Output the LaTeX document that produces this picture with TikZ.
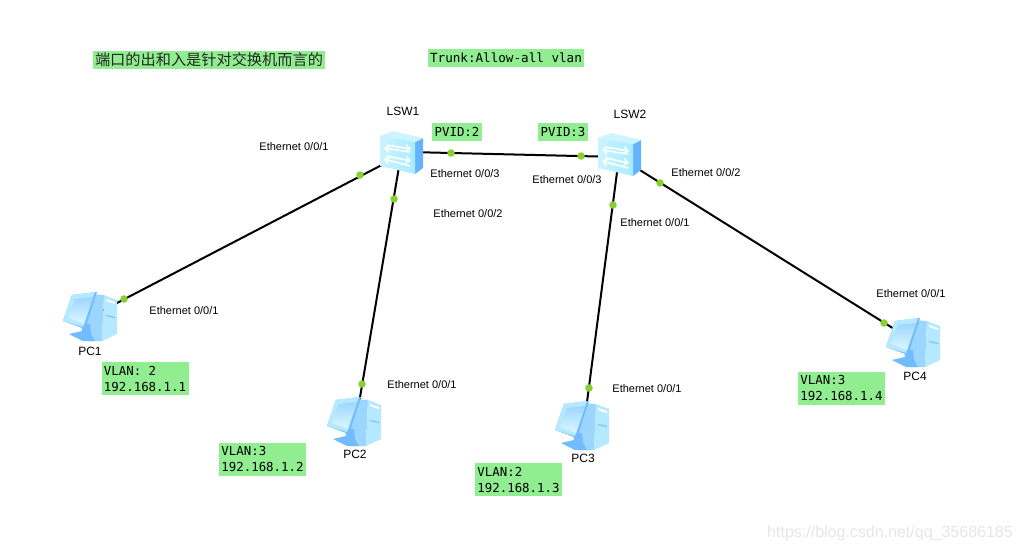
\documentclass[tikz,border=0pt]{standalone}
\usepackage{fontspec}
\setmainfont{Liberation Sans}
\setmonofont{DejaVu Sans Mono}
\newfontfamily\cjkfont{Noto Sans CJK SC}
\usepackage{xcolor}
\usetikzlibrary{arrows.meta,calc}
\definecolor{notegreen}{HTML}{90EE90}
\definecolor{portgreen}{HTML}{86D02F}
\definecolor{swfront}{HTML}{A8ECFF}
\definecolor{swtop}{HTML}{CCF5FF}
\definecolor{swside}{HTML}{66B2FF}
\definecolor{pcblue}{HTML}{70BCFF}
\definecolor{pcmid}{HTML}{9CD6FF}
\definecolor{pclight}{HTML}{B4E9FF}
\definecolor{pcscreen}{HTML}{DDF7FF}
\definecolor{markgray}{HTML}{E6E6E6}
\tikzset{
  link/.style={draw=black, line width=2pt},
  port/.style={circle, fill=portgreen, inner sep=0pt, minimum size=7.5pt},
  device/.style={inner sep=0pt, minimum size=1pt},
  devlabel/.style={font=\fontsize{12}{14}\selectfont},
  portlabel/.style={font=\fontsize{11}{13}\selectfont},
  note/.style={fill=notegreen, inner sep=0pt, font=\ttfamily\fontsize{12.4}{16}\selectfont},
  vlannote/.style={note, minimum width=87pt, minimum height=33pt, align=left},
  swarrow/.style={white, line width=1.6pt, -{Straight Barb[length=4pt,width=7pt]}},
  switchicon/.pic={
    \fill[swside] (14,-13) -- (22,-17) -- (22,13) -- (14,19) -- cycle;
    \fill[swtop] (-21,-19) -- (-8,-24) -- (22,-17) -- (14,-13) -- cycle;
    \shade[left color=swfront!60!white, right color=swfront] (-21,-19) -- (14,-13) -- (14,19) -- (-21,11) -- cycle;
    \draw[swarrow] (-14,-10) -- (10,-6);
    \draw[swarrow] (9,-3) -- (-17,-7);
    \draw[swarrow] (-14,1) -- (10,6);
    \draw[swarrow] (9,11) -- (-17,4);
  },
  pcicon/.pic={
    % tower
    \fill[pcmid] (-1,-22) -- (12,-21) -- (10,25) -- (-4,25) -- (-8,12) -- cycle;
    \fill[pclight] (12,-21) -- (25,-16) -- (25,18) -- (10,25) -- cycle;
    \fill[white] (14,-17) -- (23,-14) -- (23,-12) -- (14,-15) -- cycle;
    \fill[pcblue] (14,-1) -- (23,1) -- (23,2) -- (14,0) -- cycle;
    % stand
    \fill[pcblue] (-11,8) -- (-2,8) -- (-1,18) -- (3,25) -- (-9,25) -- (-23,18) -- (-10,15) -- cycle;
    % monitor
    \fill[pcblue] (-7,13) -- (-29,5) -- (-20,-21) -- (5,-24) -- cycle;
    \fill[pclight] (-9,11) -- (-29,5) -- (-20,-21) -- (3,-24) -- cycle;
    \shade[top color=pcmid, bottom color=pcscreen] (-24,2) -- (-17,-17) -- (1,-19) -- (-8,8) -- cycle;
  }
}
\begin{document}
\begin{tikzpicture}[x=1pt,y=-1pt]
  \path[use as bounding box, fill=white] (0,0) rectangle (1021,552);

  \node[device] (lsw1) at (401,155) {};
  \node[device] (lsw2) at (619,157) {};
  \node[device] (lsw1t) at (401,151.8) {};
  \node[device] (pc1) at (92,316) {};
  \node[device] (pc2) at (356,421) {};
  \node[device] (pc3) at (584,425) {};
  \node[device] (pc4) at (915,342) {};

  \draw[link] (lsw1t) -- (lsw2);
  \draw[link] (lsw1) -- (pc1);
  \draw[link] (lsw1) -- (pc2);
  \draw[link] (lsw2) -- (pc3);
  \draw[link] (lsw2) -- (pc4);

  \pic at (lsw1) {switchicon};
  \pic at (lsw2) {switchicon};
  \pic at (pc1) {pcicon};
  \pic at (pc2) {pcicon};
  \pic at (pc3) {pcicon};
  \pic at (pc4) {pcicon};

  \node[port] (p1a) at (360,175) {};
  \node[port] (p1b) at (124,299) {};
  \node[port] (p2a) at (394,199) {};
  \node[port] (p2b) at (362,384) {};
  \node[port] (p3a) at (451,153) {};
  \node[port] (p3b) at (581,156) {};
  \node[port] (p4a) at (613,205) {};
  \node[port] (p4b) at (589,388) {};
  \node[port] (p5a) at (660,183) {};
  \node[port] (p5b) at (884,323) {};

  \node[devlabel] (lsw1lbl) at (403,111) {LSW1};
  \node[devlabel] (lsw2lbl) at (630,114) {LSW2};
  \node[devlabel] (pc1lbl) at (90,351) {PC1};
  \node[devlabel] (pc2lbl) at (355,454) {PC2};
  \node[devlabel] (pc3lbl) at (583,458) {PC3};
  \node[devlabel] (pc4lbl) at (915,376) {PC4};

  \node[portlabel] (e1) at (294,146.7) {Ethernet 0/0/1};
  \node[portlabel] (e2) at (184,310.7) {Ethernet 0/0/1};
  \node[portlabel] (e3) at (465,173.7) {Ethernet 0/0/3};
  \node[portlabel] (e4) at (468,213.7) {Ethernet 0/0/2};
  \node[portlabel] (e5) at (422,384.7) {Ethernet 0/0/1};
  \node[portlabel] (e6) at (567,179.7) {Ethernet 0/0/3};
  \node[portlabel] (e7) at (706,172.7) {Ethernet 0/0/2};
  \node[portlabel] (e8) at (655,222.7) {Ethernet 0/0/1};
  \node[portlabel] (e9) at (647,388.7) {Ethernet 0/0/1};
  \node[portlabel] (e10) at (911,293.7) {Ethernet 0/0/1};

  \node[note, minimum width=232pt, minimum height=18pt, font=\cjkfont\fontsize{15.2}{18}\selectfont, text=black!85] (title) at (209,60) {端口的出和入是针对交换机而言的};
  \node[note, minimum width=156pt, minimum height=18pt, font=\ttfamily\fontsize{12.6}{16}\selectfont] (trunk) at (506,58) {Trunk:Allow-all vlan};
  \node[note, minimum width=50pt, minimum height=18pt] (pvid1) at (457,132) {PVID:2};
  \node[note, minimum width=50pt, minimum height=18pt] (pvid2) at (563,132) {PVID:3};

  \node[vlannote] (vlan1) at (145,378.5) {VLAN: 2\\192.168.1.1};
  \node[vlannote] (vlan2) at (262.5,459) {VLAN:3\\192.168.1.2};
  \node[vlannote] (vlan3) at (518.5,479.5) {VLAN:2\\192.168.1.3};
  \node[vlannote] (vlan4) at (841.5,388) {VLAN:3\\192.168.1.4};

  \node[text=markgray, font=\fontsize{16}{18}\selectfont] (mark) at (890,533) {https://blog.csdn.net/qq\_35686185};
\end{tikzpicture}
\end{document}
